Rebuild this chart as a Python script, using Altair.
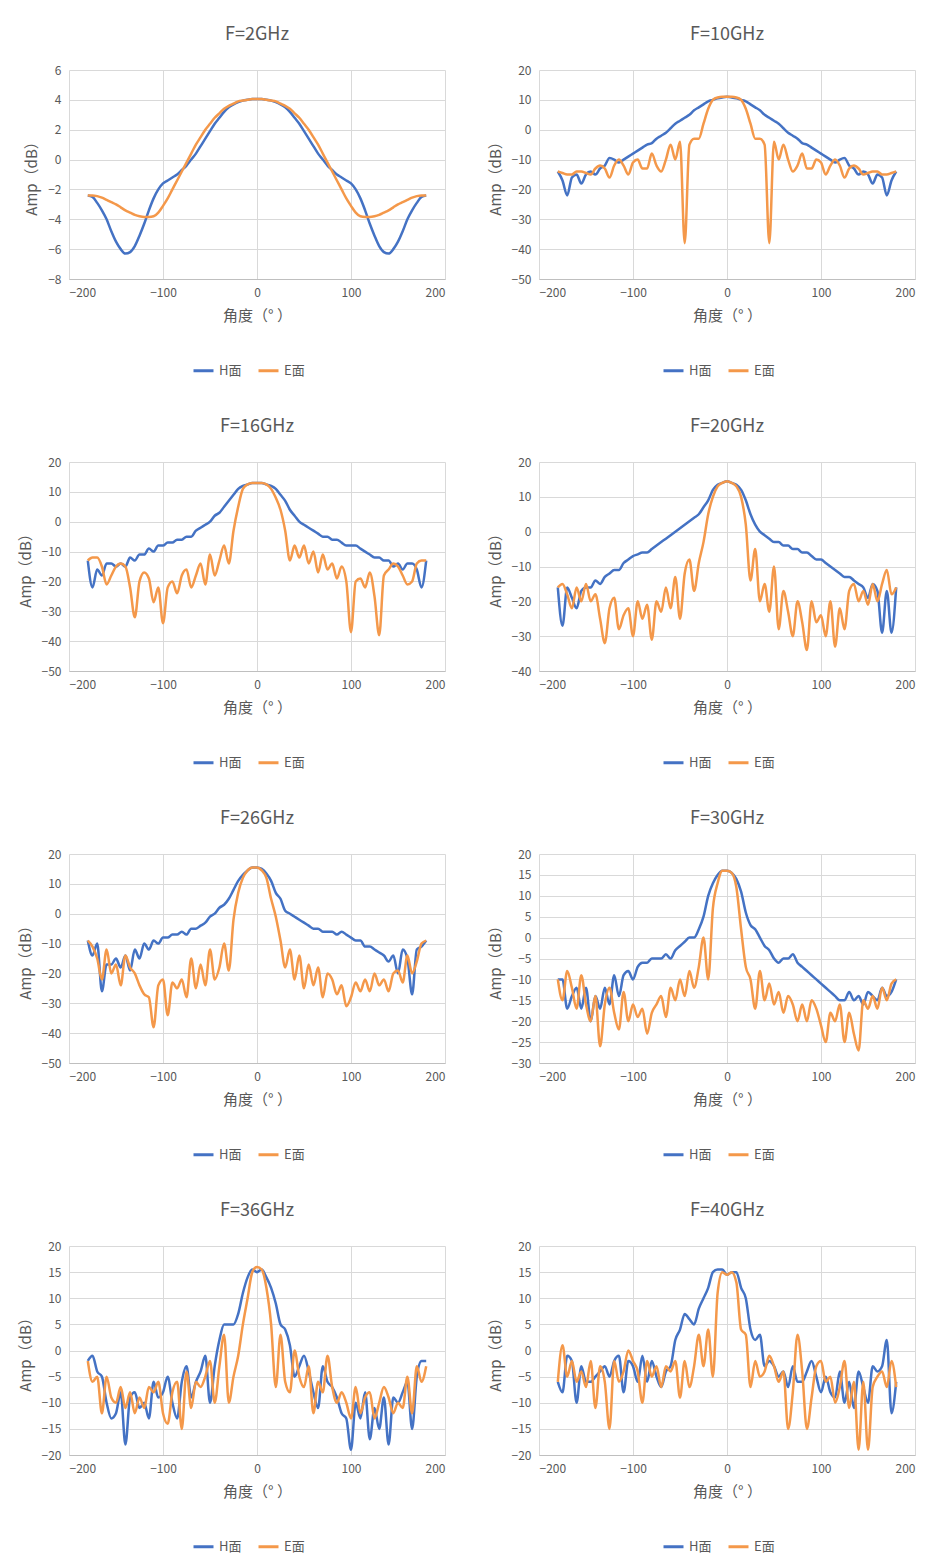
import pandas as pd
import altair as alt

ANGLES = list(range(-180, 185, 5))

# F=2GHz
h_2 = [-2.4, -2.5, -2.9, -3.4, -4.0, -4.8, -5.5, -6.0, -6.3, -6.2, -5.8, -5.1, -4.3, -3.4, -2.6, -2.0, -1.6, -1.4, -1.2,
       -1.0, -0.7, -0.4, 0.0, 0.4, 0.9, 1.4, 1.9, 2.4, 2.8, 3.2, 3.5, 3.7, 3.85, 3.95, 4.0, 4.05, 4.05,
       4.05, 4.0, 3.95, 3.85, 3.7, 3.5, 3.2, 2.8, 2.4, 1.9, 1.4, 0.9, 0.4, 0.0, -0.4, -0.7, -1.0,
       -1.2, -1.4, -1.6, -2.0, -2.6, -3.4, -4.3, -5.1, -5.8, -6.2, -6.3, -6.0, -5.5, -4.8, -4.0, -3.4, -2.9, -2.5, -2.4]
e_2 = [-2.4, -2.4, -2.45, -2.55, -2.7, -2.85, -3.0, -3.2, -3.4, -3.55, -3.7, -3.8, -3.85, -3.85, -3.8, -3.55, -3.1, -2.6,
       -2.0, -1.4, -0.8, -0.2, 0.4, 1.0, 1.5, 2.0, 2.4, 2.8, 3.1, 3.4, 3.6, 3.75, 3.9, 3.95, 4.0, 4.05, 4.05,
       4.05, 4.0, 3.95, 3.9, 3.75, 3.6, 3.4, 3.1, 2.8, 2.4, 2.0, 1.5, 1.0, 0.4, -0.2, -0.8, -1.4, -2.0,
       -2.6, -3.1, -3.55, -3.8, -3.85, -3.85, -3.8, -3.7, -3.55, -3.4, -3.2, -3.0, -2.85, -2.7, -2.55, -2.45, -2.4, -2.4]

# F=10GHz
h_10 = [-14, -17, -22, -16, -15, -18, -15, -14, -15, -13, -12, -9.5, -10, -11, -10, -9, -8, -7, -6, -5, -4.5, -3, -2, -1,
        0.5, 2, 3, 4, 5, 6.5, 7.5, 8.5, 9.5, 10, 10.5, 10.8, 11,
        10.8, 10.5, 10, 9.5, 8.5, 7.5, 6.5, 5, 4, 3, 2, 0.5, -1, -2, -3, -4.5, -5, -6, -7, -8, -9, -10, -11, -10, -9.5,
        -12, -13, -15, -14, -15, -18, -15, -16, -22, -17, -14]
e_10 = [-14, -14.5, -15, -15, -14, -14, -14.5, -15, -13, -12, -13, -16, -12, -10, -12, -15, -11, -10, -13, -13, -8, -12,
        -14, -10, -5, -10, -4, -38, -5, -3, -3, 2, 7, 10, 10.8, 11, 11,
        11, 10.8, 10, 7, 2, -3, -3, -5, -38, -4, -10, -5, -10, -14, -12, -8, -13, -13, -10, -11, -15, -12, -10, -12, -16,
        -13, -12, -13, -15, -14.5, -14, -14, -15, -15, -14.5, -14]

# F=16GHz
h_16 = [-13, -22, -16, -18, -14, -14, -15, -14, -15, -12, -13, -11, -11, -9, -10, -8, -8, -7, -7, -6, -6, -5, -5, -3,
        -2, -1, 0, 2, 3, 5, 7, 9, 11, 12, 12.5, 13, 13,
        13, 12.5, 12, 11, 9, 7, 4, 2, 0, -1, -2, -3, -4, -5, -5, -6, -6, -7, -8, -8, -8, -9, -10, -11, -12, -12,
        -13, -13, -15, -14, -16, -14, -14, -16, -22, -13]
e_16 = [-13, -12, -12, -15, -21, -18, -15, -14, -15, -22, -32, -20, -17, -19, -27, -22, -34, -22, -20, -24, -18, -16,
        -22, -18, -14, -21, -11, -18, -13, -8, -14, -3, 5, 11, 12.5, 13, 13,
        13, 12.5, 11, 8, 4, -3, -13, -8, -12, -8, -14, -10, -17, -11, -16, -14, -19, -15, -20, -37, -20, -19, -22, -17,
        -25, -38, -18, -16, -14, -15, -18, -21, -20, -14, -13, -13]

# F=20GHz
h_20 = [-16, -27, -16, -19, -22, -17, -16, -16, -14, -15, -13, -12, -11, -11, -9, -8, -7, -6.5, -6, -6, -5, -4, -3, -2,
        -1, 0, 1, 2, 3, 4, 5, 7, 9, 12, 13.5, 14, 14.5,
        14, 13.5, 12, 9, 5, 2, 0, -1, -2, -3, -3, -4, -4, -5, -5, -6, -6, -7, -8, -8, -9, -10, -11, -12, -13, -13,
        -14, -15, -16, -19, -15, -17, -29, -17, -29, -16]
e_20 = [-16, -15, -18, -22, -16, -20, -15, -20, -18, -25, -32, -22, -19, -28, -24, -22, -30, -20, -25, -21, -31, -20,
        -23, -16, -22, -13, -25, -12, -8, -17, -9, -3, 5, 10, 13, 14, 14.5,
        14, 13, 10, 2, -14, -5, -20, -15, -23, -10, -28, -17, -23, -30, -20, -26, -34, -20, -26, -24, -30, -20, -33,
        -22, -28, -17, -15, -20, -17, -21, -15, -20, -15, -11, -18, -16]

# F=26GHz
h_26 = [-9, -14, -10, -26, -17, -17, -15, -18, -14, -19, -12, -15, -10, -12, -9, -10, -8, -8, -7, -7, -6, -7, -5, -5,
        -4, -3, -1, 0, 2, 3, 5, 8, 11, 13, 14.5, 15.5, 15.5,
        15, 13.5, 11, 7, 5, 1, 0, -1, -2, -3, -4, -5, -5, -6, -6, -6, -7, -6, -7, -8, -9, -9, -11, -11, -12, -13,
        -14, -16, -14, -20, -12, -15, -27, -12, -11, -9]
e_26 = [-9, -11, -15, -22, -12, -20, -17, -24, -14, -18, -20, -24, -27, -28, -38, -24, -22, -34, -23, -25, -22, -28,
        -15, -25, -17, -24, -12, -22, -18, -10, -19, -2, 7, 12, 14.5, 15.5, 15.5,
        14.5, 12, 5, -1, -9, -18, -12, -22, -14, -25, -17, -24, -18, -28, -20, -22, -27, -24, -31, -28, -23, -26, -22,
        -26, -20, -24, -22, -26, -20, -19, -23, -14, -20, -16, -10, -9]

# F=30GHz
h_30 = [-10, -10, -17, -14, -12, -17, -12, -20, -14, -17, -12, -16, -9, -14, -9, -8, -10, -7, -6, -6, -5, -5, -5, -4,
        -5, -3, -2, -1, 0, 0, 2, 5, 10, 13, 15, 16, 16,
        15.5, 14, 11, 6, 3, 2, 0, -2, -3, -5, -6, -5, -5, -4, -6, -7, -8, -9, -10, -11, -12, -13, -14, -15, -15, -13,
        -15, -14, -16, -13, -14, -15, -12, -14, -13, -10]
e_30 = [-10, -15, -8, -12, -17, -9, -16, -20, -14, -26, -16, -12, -18, -22, -13, -20, -16, -19, -17, -23, -18, -16,
        -14, -19, -12, -15, -10, -14, -8, -12, -7, 0, -10, 7, 13, 16, 16,
        15.5, 12, 2, -7, -10, -17, -8, -15, -11, -16, -13, -18, -14, -16, -20, -16, -20, -15, -17, -21, -25, -18, -20,
        -16, -25, -18, -23, -27, -15, -17, -14, -17, -12, -15, -11, -10]

# F=36GHz
h_36 = [-2, -1, -4, -5, -10, -13, -12, -8, -18, -9, -8, -11, -10, -13, -6, -9, -8, -5, -10, -13, -6, -3, -9, -6,
        -4, -1, -10, -3, 2, 5, 5, 5, 7, 11, 14, 15.5, 15,
        15.5, 14, 12, 9, 5, 4, 1, -5, -3, -1, -4, -8, -11, -3, -6, -7, -9, -12, -13, -19, -10, -13, -8, -17, -11,
        -15, -9, -18, -9, -10, -8, -6, -15, -5, -2, -2]
e_36 = [-2, -6, -5, -12, -5, -9, -10, -7, -11, -8, -12, -9, -11, -7, -8, -6, -12, -14, -8, -6, -15, -4, -11, -6,
        -7, -5, -2, -10, -3, 3, -10, -5, -1, 5, 10, 15, 16,
        15.5, 12, 5, -7, 3, -6, -8, 0, -5, -7, -3, -12, -6, -8, -1, -7, -10, -8, -10, -13, -7, -12, -9, -8, -13,
        -10, -7, -9, -12, -10, -11, -5, -12, -3, -6, -3]

# F=40GHz
h_40 = [-6, -8, -1, -2, -10, -3, -6, -6, -5, -4, -3, -5, -2, -1, -8, -2, -3, -6, -1, -6, -2, -5, -7, -4,
        -3, 2, 4, 7, 6, 5, 8, 10, 12, 15, 15.5, 15.5, 14.5,
        15, 15, 12, 10, 4, 2, 3, -3, -2, -3, -5, -4, -7, -3, -6, -6, -4, -2, -5, -8, -5, -8, -9, -4, -10,
        -6, -11, -4, -7, -10, -3, -4, -3, 2, -12, -6]
e_40 = [-6, 1, -5, -2, -6, -4, -7, -2, -11, -3, -6, -15, -2, -6, -4, 0, -2, -4, -10, -2, -5, -3, -7, -3,
        -4, -2, -9, -2, -7, -3, 3, -3, 4, -5, 11, 15, 14.5,
        15, 13, 4, 3, -7, -2, -5, -4, -1, -3, -6, -4, -15, -8, 3, -4, -15, -9, -3, -2, -6, -5, -10, -7, -2,
        -11, -6, -19, -6, -19, -7, -5, -4, -7, -2, -7]

panels = [
    ("F=2GHz", h_2, e_2, -8, 6, 2),
    ("F=10GHz", h_10, e_10, -50, 20, 10),
    ("F=16GHz", h_16, e_16, -50, 20, 10),
    ("F=20GHz", h_20, e_20, -40, 20, 10),
    ("F=26GHz", h_26, e_26, -50, 20, 10),
    ("F=30GHz", h_30, e_30, -30, 20, 5),
    ("F=36GHz", h_36, e_36, -20, 20, 5),
    ("F=40GHz", h_40, e_40, -20, 20, 5),
]

FONT = "Noto Sans CJK SC"
GREY = "#595959"
W, H = 376, 209


def make_panel(title, h_vals, e_vals, ymin, ymax, ystep):
    df = pd.concat([
        pd.DataFrame({"angle": ANGLES, "amp": h_vals, "series": "H面"}),
        pd.DataFrame({"angle": ANGLES, "amp": e_vals, "series": "E面"}),
    ])
    chart = alt.Chart(df).mark_line(strokeWidth=2.5, interpolate="monotone").encode(
        x=alt.X("angle:Q", title="角度（° ）",
                scale=alt.Scale(domain=[-200, 200], nice=False),
                axis=alt.Axis(values=[-200, -100, 0, 100, 200], titlePadding=10)),
        y=alt.Y("amp:Q", title="Amp（dB）",
                scale=alt.Scale(domain=[ymin, ymax], nice=False),
                axis=alt.Axis(values=list(range(ymin, ymax + 1, ystep)), domain=False, titlePadding=8)),
        color=alt.Color("series:N", sort=["H面", "E面"],
                        scale=alt.Scale(domain=["H面", "E面"], range=["#4472C4", "#F4984A"]),
                        legend=alt.Legend(orient="none", legendX=W / 2 - 65, legendY=H + 80,
                                          title=None, direction="horizontal",
                                          symbolType="stroke", symbolStrokeWidth=3, symbolSize=400)),
    ).properties(title=title, width=W, height=H)
    return chart


charts = [make_panel(*p) for p in panels]

chart = alt.concat(*charts, columns=2, spacing={"row": 40, "column": 42}).resolve_legend(
    color="independent"
).resolve_scale(color="independent").configure(font=FONT).configure_view(stroke=None).configure_axis(
    labelFont=FONT, titleFont=FONT, labelColor=GREY, titleColor=GREY, labelFontSize=12, titleFontSize=15,
    titleFontWeight="normal", gridColor="#d9d9d9", domainColor="#bfbfbf", tickSize=0, labelPadding=8
).configure_title(
    font=FONT, fontSize=18, color=GREY, fontWeight="normal", offset=20
).configure_legend(
    labelFont=FONT, labelFontSize=13, labelColor=GREY
).properties(padding={"left": 10, "top": 18, "right": 10, "bottom": 5})

chart.save("out.html", embed_options={"renderer": "svg", "actions": False})
